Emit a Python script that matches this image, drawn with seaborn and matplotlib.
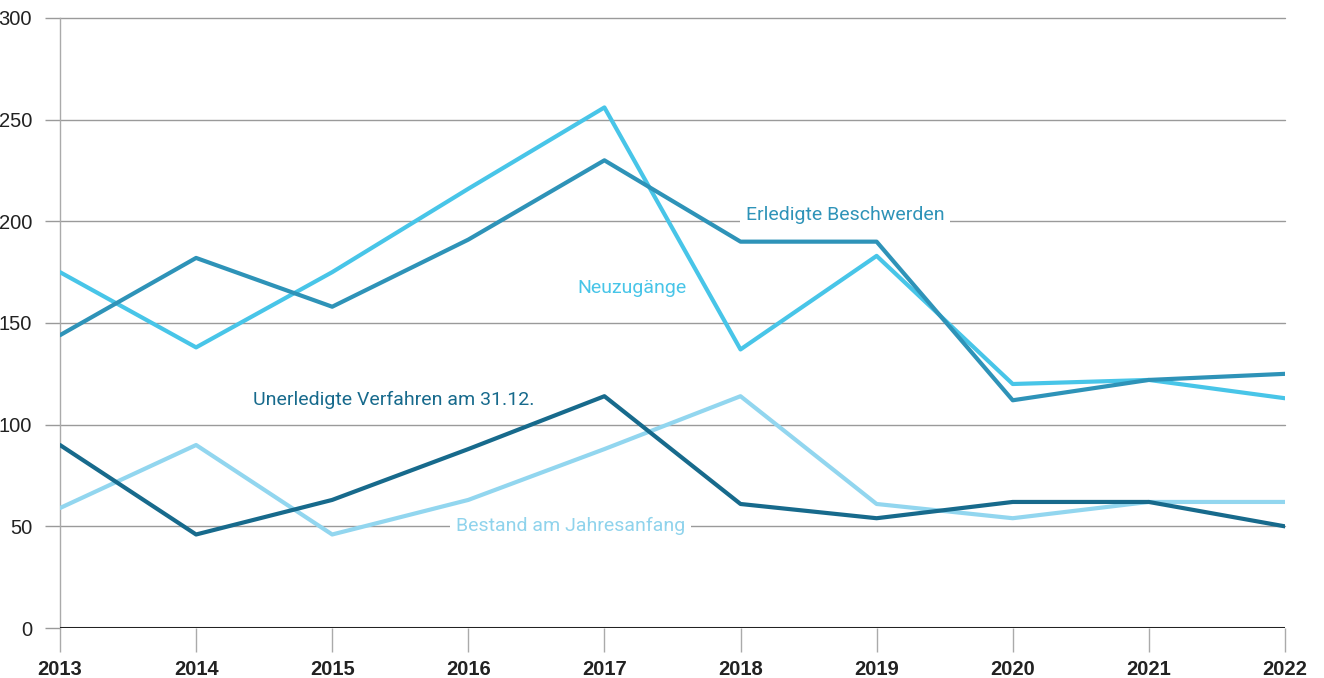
import pandas as pd
import seaborn as sns
import matplotlib.pyplot as plt

# Daten
jahre = [2013, 2014, 2015, 2016, 2017, 2018, 2019, 2020, 2021, 2022]
neuzugaenge = [175, 138, 175, 216, 256, 137, 183, 120, 122, 113]
erledigt = [144, 182, 158, 191, 230, 190, 190, 112, 122, 125]
unerledigt = [90, 46, 63, 88, 114, 61, 54, 62, 62, 50]
bestand = [59, 90, 46, 63, 88, 114, 61, 54, 62, 62]

serien = {
    "Bestand am Jahresanfang": bestand,
    "Neuzugänge": neuzugaenge,
    "Erledigte Beschwerden": erledigt,
    "Unerledigte Verfahren am 31.12.": unerledigt,
}
farben = {
    "Bestand am Jahresanfang": "#92d6ef",
    "Neuzugänge": "#48c5e8",
    "Erledigte Beschwerden": "#2e93b8",
    "Unerledigte Verfahren am 31.12.": "#176a8c",
}

df = pd.concat(
    [pd.DataFrame({"Jahr": jahre, "Wert": v, "Serie": k}) for k, v in serien.items()],
    ignore_index=True,
)

sns.set_style("white")
plt.rcParams["font.family"] = ["Liberation Sans", "DejaVu Sans"]

fig = plt.figure(figsize=(13.24, 6.78), dpi=100)
ax = fig.add_axes([0.0453, 0.0737, 0.9252, 0.8998])

sns.lineplot(data=df, x="Jahr", y="Wert", hue="Serie", palette=farben,
             linewidth=3, legend=False, ax=ax, zorder=3)

ax.set_xlim(2013, 2022)
ax.set_ylim(0, 300)
ax.set_xticks(jahre)
ax.set_yticks(range(0, 301, 50))
ax.set_xlabel("")
ax.set_ylabel("")

for y in range(50, 301, 50):
    ax.axhline(y, color="#9a9a9a", lw=1, zorder=1, clip_on=False)
ax.axhline(0, color="#222222", lw=2.2, zorder=4)

for s in ["top", "right", "bottom"]:
    ax.spines[s].set_visible(False)
ax.spines["left"].set_color("#aaaaaa")
ax.spines["left"].set_linewidth(1)

ax.tick_params(axis="y", length=11, width=1, color="#9a9a9a", labelsize=14.5,
               labelcolor="#222222", pad=9, left=True)
ax.tick_params(axis="x", length=17, width=1, color="#aaaaaa", labelsize=14.5,
               labelcolor="#222222", pad=6, bottom=True, direction="out")
for lbl in ax.get_xticklabels():
    lbl.set_fontweight("bold")

# Beschriftungen der Linien
beschriftung = [
    ("Erledigte Beschwerden", 2018.77, 203),
    ("Neuzugänge", 2017.2, 167),
    ("Unerledigte Verfahren am 31.12.", 2015.45, 112),
    ("Bestand am Jahresanfang", 2016.75, 50),
]
for name, x, y in beschriftung:
    ax.text(x, y, name, color=farben[name] if name != "Bestand am Jahresanfang" else "#8fd3ec",
            fontsize=14, family=["Roboto", "DejaVu Sans"], ha="center", va="center",
            zorder=5, bbox=dict(facecolor="white", edgecolor="none", pad=4))

fig.savefig("out.png", dpi=100)
